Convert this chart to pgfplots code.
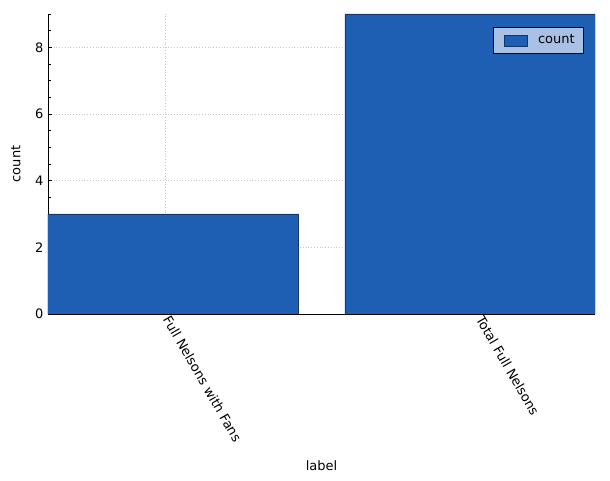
\documentclass[border=0pt]{standalone}
\usepackage{fontspec}
\setmainfont{DejaVu Sans}
\usepackage{pgfplots}
\pgfplotsset{compat=1.18}
\definecolor{barblue}{RGB}{30,95,180}
\definecolor{baredge}{RGB}{20,55,105}
\definecolor{legbg}{RGB}{168,193,228}
\newcommand{\fs}{\fontsize{13bp}{15bp}\selectfont}
\begin{document}
\fs
\begin{tikzpicture}
\useasboundingbox (0,0) rectangle (610bp,481bp);
\begin{axis}[
  at={(48bp,167bp)}, anchor=south west,
  width=547bp, height=300bp, scale only axis,
  xmin=-0.374, xmax=1.374, ymin=0, ymax=9,
  axis x line*=bottom, axis y line*=left,
  axis line style={-, line width=0.8pt},
  xtick={0,1}, xticklabels={Full Nelsons with Fans, Total Full Nelsons},
  xticklabel style={rotate=-60, anchor=west, font=\fs, xshift=-1bp},
  ytick={0,2,4,6,8},
  minor ytick={0.5,1,1.5,2.5,3,3.5,4.5,5,5.5,6.5,7,7.5,8.5,9},
  yticklabel style={font=\fs},
  /pgf/number format/assume math mode=true,
  tick align=inside,
  major tick length=4bp, minor tick length=2.5bp,
  tick style={black, line width=0.6pt},
  xmajorgrids, ymajorgrids,
  major grid style={dash pattern=on 0.8bp off 2bp, line width=0.6pt, gray!45},
  xlabel={label}, ylabel={count},
  xlabel style={at={(axis description cs:0.5,-0.507)}, anchor=center, font=\fs},
  ylabel style={at={(axis description cs:-0.0585,0.5)}, anchor=center, font=\fs},
  legend style={at={(1,1)}, anchor=north east, xshift=-11bp, yshift=-13bp,
    fill=legbg, draw=black, line width=0.6pt, font=\fs,
    inner xsep=7bp, inner ysep=5.5bp},
  legend cell align=left,
]
\addplot[ybar, bar width=0.8, fill=barblue, draw=baredge, line width=0.5pt,
  legend image code/.code={\path[draw=none, fill=none] (0bp,0bp) -- (36bp,0bp);
    \draw[fill=barblue, draw=baredge, line width=0.5pt] (4bp,-5.5bp) rectangle (27bp,5.5bp);}]
  coordinates {(0.025,3) (0.975,9)};
\addlegendentry{count}
\end{axis}
\end{tikzpicture}
\end{document}
